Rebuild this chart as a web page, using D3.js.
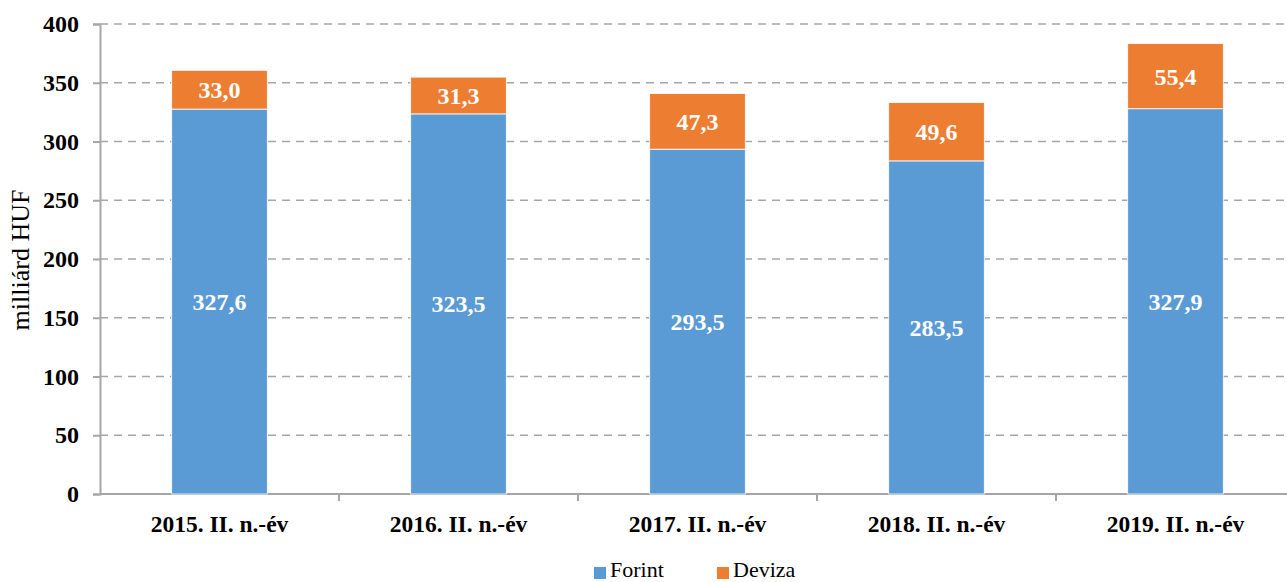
<!DOCTYPE html>
<html><head><meta charset="utf-8">
<script src="https://cdn.jsdelivr.net/npm/d3@7"></script>
<style>body{margin:0;background:#fff;}svg text{font-family:"Liberation Serif","Times New Roman","DejaVu Serif",serif !important;}</style>
</head><body><svg id="c" width="1287" height="582"></svg>
<script>
const categories = ["2015. II. n.-év","2016. II. n.-év","2017. II. n.-év","2018. II. n.-év","2019. II. n.-év"];
const forint = [327.6, 323.5, 293.5, 283.5, 327.9];
const deviza = [33.0, 31.3, 47.3, 49.6, 55.4];
const seriesNames = ["Forint","Deviza"];
const yTicks = [0,50,100,150,200,250,300,350,400];
const colors = ["#5b9bd5","#ed7d31"];

const svg = d3.select("#c");
const x = d3.scaleBand().domain(categories).range([100,1295]).padding(0);
const y = d3.scaleLinear().domain([0,400]).range([494,24]);
const fmt = v => v.toFixed(1).replace(".", ",");

// gridlines
svg.append("g").selectAll("line").data(yTicks.filter(d=>d>0)).join("line")
  .attr("x1",100).attr("x2",1287).attr("y1",d=>y(d)).attr("y2",d=>y(d))
  .attr("stroke","#a6a6a6").attr("stroke-width",1.5).attr("stroke-dasharray","8,6");

// y axis
const ya = svg.append("g").attr("transform","translate(100,0)")
  .call(d3.axisLeft(y).tickValues(yTicks).tickSize(7).tickPadding(14).tickFormat(d3.format("d")));
ya.select(".domain").attr("stroke","#a6a6a6").attr("stroke-width",2);
ya.selectAll(".tick line").attr("stroke","#a6a6a6").attr("stroke-width",2);
ya.selectAll("text").attr("font-size",24).attr("font-weight","bold").attr("fill","#000");

// x axis
const xa = svg.append("g").attr("transform","translate(0,494)")
  .call(d3.axisBottom(x).tickSize(0).tickPadding(21));
xa.select(".domain").attr("stroke","#a6a6a6").attr("stroke-width",2).attr("d","M100,0H1287");
xa.selectAll("text").attr("font-size",23.5).attr("font-weight","bold").attr("fill","#000");
xa.append("g").selectAll("line").data(categories.slice(1)).join("line")
  .attr("x1",d=>x(d)).attr("x2",d=>x(d)).attr("y1",0).attr("y2",7)
  .attr("stroke","#a6a6a6").attr("stroke-width",2);

// bars
const bw = x.bandwidth()*0.4;
const bx = d => x(d) + (x.bandwidth()-bw)/2;
const g = svg.append("g");
g.selectAll("rect.f").data(categories).join("rect").attr("class","f")
  .attr("x",bx).attr("width",bw).attr("y",(d,i)=>y(forint[i])).attr("height",(d,i)=>y(0)-y(forint[i]))
  .attr("fill",colors[0]).attr("stroke","#fff").attr("stroke-width",0.8);
g.selectAll("rect.d").data(categories).join("rect").attr("class","d")
  .attr("x",bx).attr("width",bw).attr("y",(d,i)=>y(forint[i]+deviza[i])).attr("height",(d,i)=>y(forint[i])-y(forint[i]+deviza[i]))
  .attr("fill",colors[1]).attr("stroke","#fff").attr("stroke-width",0.8);

// labels
g.selectAll("text.fl").data(categories).join("text").attr("class","fl")
  .attr("x",d=>x(d)+x.bandwidth()/2).attr("y",(d,i)=>(y(0)+y(forint[i]))/2).attr("dy","0.35em")
  .attr("text-anchor","middle").attr("fill","#fff").attr("font-weight","bold").attr("font-size",24)
  .text((d,i)=>fmt(forint[i]));
g.selectAll("text.dl").data(categories).join("text").attr("class","dl")
  .attr("x",d=>x(d)+x.bandwidth()/2).attr("y",(d,i)=>(y(forint[i])+y(forint[i]+deviza[i]))/2).attr("dy","0.35em")
  .attr("text-anchor","middle").attr("fill","#fff").attr("font-weight","bold").attr("font-size",24)
  .text((d,i)=>fmt(deviza[i]));

// y label
svg.append("text").attr("transform","translate(29,260) rotate(-90)").attr("text-anchor","middle")
  .attr("font-size",26).attr("fill","#000").text("milliárd HUF");

// legend
const legX = [594, 717];
const lg = svg.append("g");
seriesNames.forEach((s,i)=>{
  lg.append("rect").attr("x",legX[i]).attr("y",567).attr("width",12).attr("height",12).attr("fill",colors[i]);
  lg.append("text").attr("x",legX[i]+16).attr("y",577).attr("font-size",22).attr("fill","#000").text(s);
});
</script></body></html>
